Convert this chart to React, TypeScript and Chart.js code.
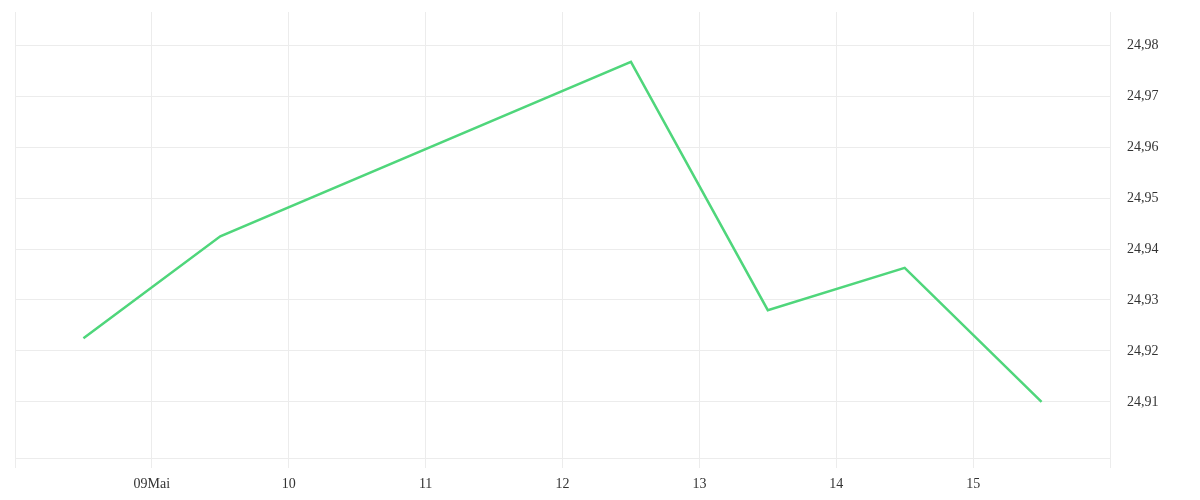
import React, { useEffect, useRef } from "react";
import { Chart, registerables } from "chart.js";

Chart.register(...registerables);

// Trading days (day of May, value at mid-day)
const dayPositions = [8.5, 9.5, 12.5, 13.5, 14.5, 15.5];
const prices = [24.9225, 24.9425, 24.9767, 24.928, 24.9363, 24.91];

const xTickValues = [8, 9, 10, 11, 12, 13, 14, 15, 16];
const xTickLabels = ["", "09Mai", "10", "11", "12", "13", "14", "15", ""];
const yTickValues = [24.91, 24.92, 24.93, 24.94, 24.95, 24.96, 24.97, 24.98];

const GRID = "#ececec";
const FONT = { family: "'Liberation Serif', 'Times New Roman', serif", size: 14 };

export default function App() {
  const ref = useRef<HTMLCanvasElement | null>(null);
  useEffect(() => {
    if (!ref.current) return;
    const chart = new Chart(ref.current, {
      type: "line",
      data: {
        datasets: [
          {
            data: dayPositions.map((x, i) => ({ x, y: prices[i] })),
            borderColor: "#4fd67b",
            borderWidth: 2.5,
            pointRadius: 0,
            tension: 0,
            fill: false,
          },
        ],
      },
      options: {
        animation: false,
        responsive: true,
        maintainAspectRatio: false,
        layout: { padding: { left: 7, top: 4, right: 0, bottom: 0 } },
        plugins: { legend: { display: false }, tooltip: { enabled: false } },
        scales: {
          x: {
            type: "linear",
            min: 8,
            max: 16,
            afterBuildTicks: (scale: any) => {
              scale.ticks = xTickValues.map((v) => ({ value: v }));
            },
            afterFit: (scale: any) => {
              scale.height = 34;
              scale.paddingLeft = 0;
              scale.paddingRight = 0;
            },
            grid: { color: GRID, tickLength: 10, drawTicks: true },
            border: { color: GRID },
            ticks: {
              color: "#333",
              font: FONT,
              padding: 8,
              maxRotation: 0,
              autoSkip: false,
              callback: (v: any) => {
                const i = xTickValues.indexOf(Number(v));
                return i >= 0 ? xTickLabels[i] : "";
              },
            },
          },
          y: {
            position: "right",
            min: 24.899,
            max: 24.9865,
            afterBuildTicks: (scale: any) => {
              scale.ticks = yTickValues.map((v) => ({ value: v }));
            },
            afterFit: (scale: any) => {
              scale.width = 82;
              scale.paddingTop = 0;
              scale.paddingBottom = 0;
            },
            grid: { color: GRID, drawTicks: false },
            border: { color: GRID },
            ticks: {
              color: "#333",
              font: FONT,
              padding: 17,
              callback: (v: any) => Number(v).toFixed(2).replace(".", ","),
            },
          },
        },
      },
    });
    return () => chart.destroy();
  }, []);
  return (
    <div style={{ width: 1184, height: 484, position: "relative" }}>
      <canvas ref={ref} />
    </div>
  );
}
